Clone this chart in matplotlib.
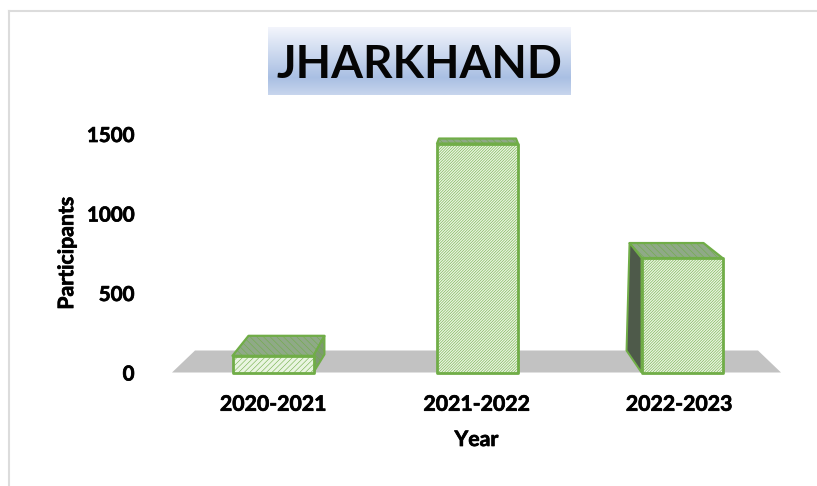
import numpy as np
import matplotlib
matplotlib.use("Agg")
import matplotlib.pyplot as plt
import matplotlib.patheffects as pe
from matplotlib.patches import Polygon
from matplotlib.lines import Line2D

# data
years = ["2020-2021", "2021-2022", "2022-2023"]
participants = [105, 1440, 720]
y_ticks = [0, 500, 1000, 1500]
title = "JHARKHAND"

W, H = 817, 486
plt.rcParams["font.family"] = ["Lato", "Open Sans", "DejaVu Sans"]
plt.rcParams["hatch.linewidth"] = 0.4
fig = plt.figure(figsize=(W / 100, H / 100), dpi=100, facecolor="white")


def axes_px(x0, y0, x1, y1, **kw):
    return fig.add_axes([x0 / W, 1 - y1 / H, (x1 - x0) / W, (y1 - y0) / H], **kw)


ax = axes_px(172, 134, 781, 372.5)
PX_PER_CAT = 204.5
ax.set_xlim((172 - 273) / PX_PER_CAT, (781 - 273) / PX_PER_CAT)
ax.set_ylim(0, 1500)
ax.patch.set_alpha(0)
for s in ax.spines.values():
    s.set_visible(False)
tick_x = [0, 0.995, 1.985]
ax.set_xticks(tick_x, years, fontsize=15.3, fontweight="bold")
ax.set_yticks(y_ticks, [str(v) for v in y_ticks], fontsize=14.8, fontweight="bold")
ax.tick_params(length=0)
ax.tick_params(axis="x", pad=16)
ax.tick_params(axis="y", pad=27)
ax.set_xlabel("Year", fontsize=15.3, fontweight="bold", labelpad=11)
ax.set_ylabel("Participants", fontsize=15.3, fontweight="bold", labelpad=7)

embolden = [pe.withStroke(linewidth=0.5, foreground="black")]
for t in ax.get_xticklabels() + ax.get_yticklabels() + [ax.xaxis.label, ax.yaxis.label]:
    t.set_path_effects(embolden)

GREEN = "#70ad47"
PALE = "#e9f5e0"
TOP = "#8fa987"
SIDE = "#7d9a70"
DARK = "#4e5a4a"

# floor
ax.add_patch(Polygon([(0, 0), (23 / 609, 22 / 238.5), (586 / 609, 22 / 238.5), (1, 0)],
                     closed=True, transform=ax.transAxes, fc="#c2c2c2", ec="none", zorder=1))

sx = 1 / PX_PER_CAT
sy = 1500 / 238.5
BAR_W = 81 / PX_PER_CAT
# depth of each bar: back-left and back-right offsets of the top face, in pixels
back = [((16, 20), (11, 20)), ((2, 5), (-2, 5)), ((-12, 15), (-19, 15))]
hatches = ["//////", "/" * 12, "/" * 12]

bars = ax.bar(range(len(years)), participants, width=BAR_W, facecolor=PALE, edgecolor=GREEN,
              linewidth=2, zorder=4, joinstyle="round", clip_on=False)
for b, h in zip(bars, hatches):
    b.set_hatch(h)

for i, (v, (bl, br)) in enumerate(zip(participants, back)):
    xl, xr = i - BAR_W / 2, i + BAR_W / 2
    tl = (xl + bl[0] * sx, v + bl[1] * sy)
    tr = (xr + br[0] * sx, v + br[1] * sy)
    ax.add_patch(Polygon([(xl, v), (xr, v), tr, tl], closed=True, fc=TOP, ec=GREEN, lw=1.6,
                         hatch="\\\\\\\\\\", zorder=3, clip_on=False, joinstyle="round"))
    if i == 0:
        ax.add_patch(Polygon([(xr, v), tr, (tr[0], 18 * sy), (xr, 0)], closed=True, fc=SIDE,
                             ec=GREEN, lw=1.4, hatch="\\\\\\\\\\", zorder=3, clip_on=False))
    if i == 2:
        ax.add_patch(Polygon([(xl, v), tl, (tl[0] - 3 * sx, 22 * sy), (xl, 0)], closed=True,
                             fc=DARK, ec=GREEN, lw=1.4, zorder=3, clip_on=False))

# title banner
bax = axes_px(268, 27, 571, 95)
bax.axis("off")
stops = np.interp(np.linspace(0, 1, 68), [0, 0.75, 1], [0, 1, 0.6])[:, None, None]
c0 = np.array([0xf4, 0xf6, 0xfc]) / 255
c1 = np.array([0xa9, 0xbf, 0xe3]) / 255
bax.imshow(c0 + (c1 - c0) * stops, aspect="auto", extent=(0, 1, 0, 1))
bax.text(0.5, 0.5, title, transform=bax.transAxes, ha="center", va="center_baseline",
         fontsize=33, fontweight="bold", color="#050505")

# chart border
for xs, ys in [((8.5, W), (11, 11)), ((8.5, 8.5), (11, H))]:
    fig.add_artist(Line2D([x / W for x in xs], [1 - y / H for y in ys], color="#dcdcdc", lw=1.5))

fig.savefig("out.png", dpi=100)
